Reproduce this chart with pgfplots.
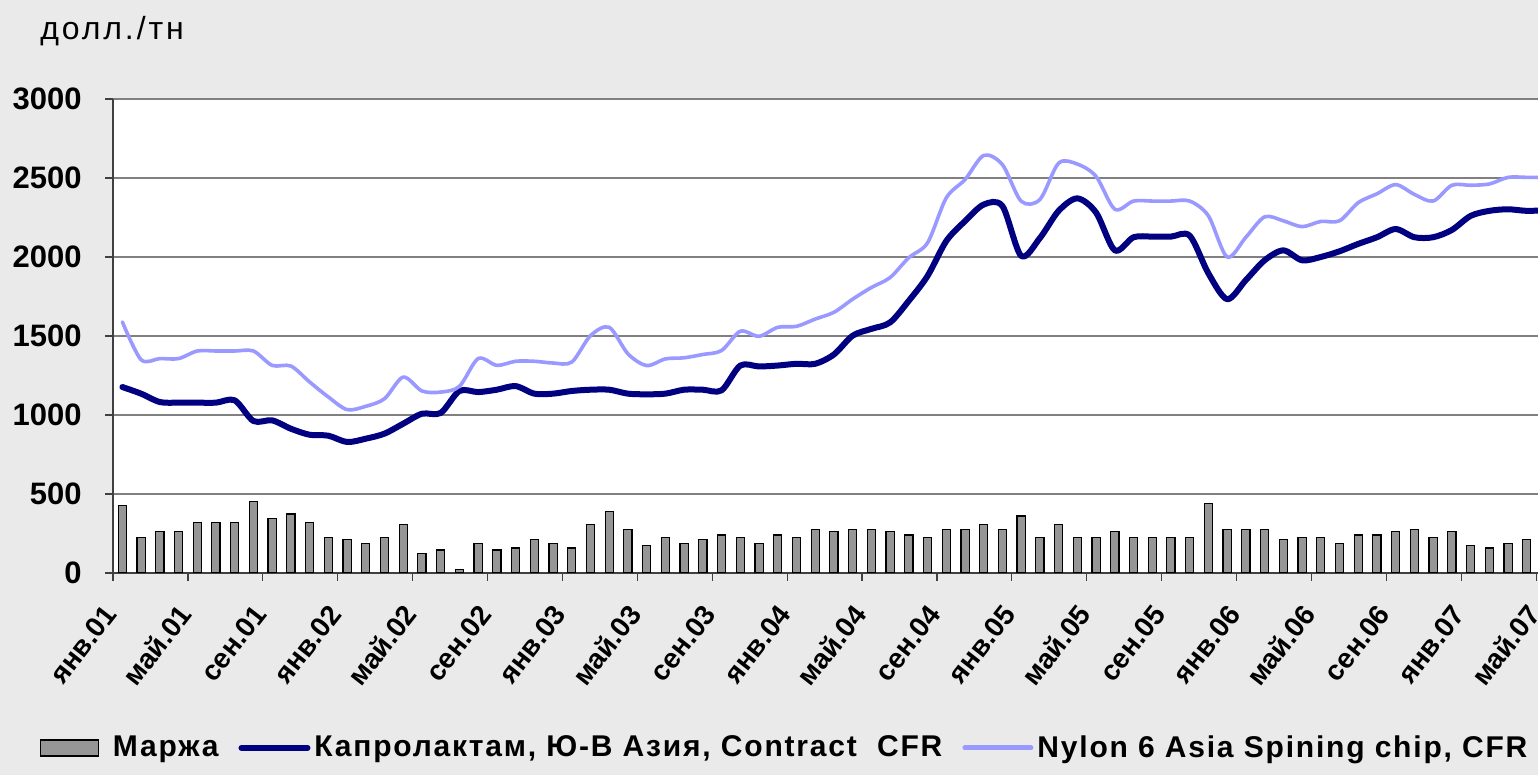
\documentclass[border=0pt]{standalone}
\usepackage{pgfplots}
\usepackage{pgfplotstable}
\pgfplotsset{compat=1.18}
\usepackage{fontspec}
\setmainfont{Liberation Sans}

\definecolor{bgc}{HTML}{EAEAEA}
\definecolor{capro}{HTML}{000080}
\definecolor{nylon}{HTML}{9999FF}
\definecolor{margc}{HTML}{969696}
\definecolor{gridc}{HTML}{808080}

% month index (0 = янв.01), margin, caprolactam, nylon 6
\pgfplotstableread{
i marg capro nylon
0 425 1177 1589
1 225 1135 1350
2 262 1082 1357
3 262 1078 1357
4 320 1078 1405
5 320 1078 1405
6 320 1093 1405
7 455 962 1405
8 343 966 1314
9 374 913 1310
10 320 875 1209
11 225 869 1114
12 211 829 1034
13 189 850 1055
14 225 882 1103
15 308 945 1240
16 123 1008 1152
17 145 1013 1145
18 24 1152 1181
19 189 1145 1357
20 145 1160 1314
21 158 1183 1340
22 211 1135 1340
23 189 1135 1329
24 158 1152 1335
25 308 1160 1502
26 389 1160 1555
27 277 1135 1387
28 174 1131 1313
29 225 1135 1355
30 189 1160 1362
31 211 1160 1383
32 240 1156 1408
33 225 1313 1530
34 189 1307 1498
35 240 1313 1555
36 225 1324 1561
37 277 1324 1607
38 262 1383 1650
39 277 1502 1733
40 277 1545 1807
41 262 1586 1870
42 240 1723 1996
43 225 1880 2090
44 277 2101 2374
45 277 2227 2490
46 308 2332 2643
47 277 2322 2584
48 361 2007 2353
49 225 2120 2364
50 308 2292 2594
51 225 2371 2588
52 225 2281 2510
53 262 2042 2302
54 225 2125 2354
55 225 2129 2354
56 225 2129 2354
57 225 2135 2354
58 440 1896 2260
59 277 1733 2000
60 277 1854 2125
61 277 1979 2254
62 211 2042 2229
63 225 1979 2192
64 225 2000 2225
65 189 2036 2229
66 240 2083 2344
67 240 2125 2400
68 262 2177 2458
69 277 2125 2396
70 225 2125 2354
71 262 2171 2454
72 174 2260 2454
73 158 2292 2462
74 189 2302 2504
75 211 2292 2504
76 189 2296 2504
}\data

\begin{document}
\begin{tikzpicture}
\fill[bgc] (0,0) rectangle (769pt,387.5pt);
\useasboundingbox (0,0) rectangle (769pt,387.5pt);
\node[anchor=west, inner sep=0pt, font=\fontsize{16}{19}\selectfont\addfontfeature{LetterSpace=9}] at (20pt,372pt) {долл./тн};
\begin{axis}[
    at={(56.5pt,101pt)}, anchor=south west,
    scale only axis,
    width=712.5pt, height=237pt,
    xmin=0, xmax=76.1,
    ymin=0, ymax=3000,
    axis background/.style={fill=white},
    axis x line*=bottom, axis y line*=left,
    axis line style={line width=0.8pt, draw=black!75},
    ytick={0,500,...,3000},
    ymajorgrids,
    major grid style={line width=0.8pt, draw=gridc},
    tick align=outside,
    major tick length=4pt,
    tick style={line width=0.6pt, draw=black!75},
    xtick={0,4,...,76},
    xticklabels={янв.01,май.01,сен.01,янв.02,май.02,сен.02,янв.03,май.03,сен.03,
                 янв.04,май.04,сен.04,янв.05,май.05,сен.05,янв.06,май.06,сен.06,
                 янв.07,май.07},
    xticklabel style={xshift=-0.5pt, yshift=-13pt, rotate=52, anchor=east, inner sep=1pt,
                      font=\bfseries\fontsize{14}{16}\selectfont},
    yticklabel style={inner sep=0pt, xshift=-11.5pt,
                      font=\bfseries\fontsize{15.5}{18}\selectfont},
    /pgf/number format/assume math mode=true,
    /pgf/number format/1000 sep={},
    legend style={at={(-0.056,-0.369)}, anchor=west, draw=none, fill=none,
                  legend columns=-1,
                  font=\bfseries\fontsize{15}{18}\selectfont\addfontfeature{LetterSpace=6},
                  /tikz/every even column/.append style={column sep=8pt}},
  ]
  \addplot[ybar, bar shift=0pt, bar width=4.1pt, fill=margc, draw=black, line width=0.6pt,
    legend image code/.code={\draw[fill=margc, draw=black, line width=0.8pt] (0pt,-4pt) rectangle (29pt,4pt);
                             \path (34pt,0pt);}]
    table[x expr=\thisrow{i}+0.5, y=marg] {\data};
  \addlegendentry{Маржа}
  \addplot[capro, line width=3pt, smooth, no markers, line cap=round, line join=round,
    legend image code/.code={\draw[capro, line width=3pt, line cap=round] (0pt,0pt) -- (33pt,0pt);}]
    table[x expr=\thisrow{i}+0.5, y=capro] {\data};
  \addlegendentry{Капролактам, Ю-В Азия, Contract\ \ CFR}
  \addplot[nylon, line width=1.8pt, smooth, no markers, line cap=round, line join=round,
    legend image code/.code={\draw[nylon, line width=2.5pt, line cap=round] (0pt,0pt) -- (33pt,0pt);}]
    table[x expr=\thisrow{i}+0.5, y=nylon] {\data};
  \addlegendentry{Nylon 6 Asia Spining chip, CFR}
\end{axis}
\end{tikzpicture}
\end{document}
